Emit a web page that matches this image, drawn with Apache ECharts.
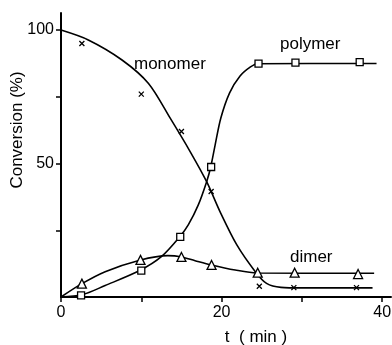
<!DOCTYPE html>
<html>
<head>
<meta charset="utf-8">
<script src="https://cdn.jsdelivr.net/npm/echarts@6/dist/echarts.min.js"></script>
<style>
html,body{margin:0;padding:0;background:#fff;}
#c{width:392px;height:345px;}
</style>
</head>
<body>
<div id="c"></div>
<script>
// measured points (t in min, conversion in %)
const monomerPts = [[2.6, 95], [10, 76], [15, 62], [18.7, 39.5], [24.7, 4], [29.0, 3.5], [36.8, 3.5]];
const polymerPts = [[2.5, 0.6], [10, 9.9], [14.85, 22.5], [18.7, 48.7], [24.6, 87.4], [29.2, 87.8], [37.2, 88]];
const dimerPts   = [[2.6, 5], [9.9, 13.9], [15, 15], [18.75, 12], [24.5, 9.1], [29.1, 9.1], [37, 8.6]];

// smooth fitted curves
const monomerCurve = [[0, 100], [3.4, 96.3], [7.6, 88.8], [10.9, 80], [13.6, 67], [16.1, 54.4], [18.14, 43.2], [19.8, 32], [21.9, 19.5], [24.2, 9.5], [25.6, 5.1], [27.4, 3.6], [30, 3.4], [38.8, 3.4]];
const polymerCurve = [[0, 0], [2.6, 0.8], [5.5, 4.3], [9.8, 9.9], [12.5, 15.1], [14.8, 22.6], [15.85, 27], [17.1, 34.5], [18.14, 43.2], [18.64, 48.6], [19.2, 57], [19.9, 67], [21, 76.5], [22.3, 82.8], [23.6, 86.2], [24.5, 87.4], [39.3, 87.5]];
const dimerCurve   = [[0, 0], [2.6, 5], [5.5, 9.5], [9.8, 13.8], [13.3, 15.5], [14.9, 15.1], [16.7, 13.6], [18.7, 12], [21.7, 10.1], [24.4, 9], [39, 8.9]];

const xTicks = [0, 10, 20, 30, 40];
const xLabels = [0, 20, 40];
const yTicks = [25, 50, 75, 100];
const yLabels = [50, 100];

const FONT = 'Liberation Sans';
const chart = echarts.init(document.getElementById('c'), null, {renderer: 'canvas'});

function curve(data) {
  return {type: 'line', data: data, smooth: 0.3, showSymbol: false,
    lineStyle: {color: '#000', width: 1.6}, z: 2, silent: true, animation: false};
}
function pts(data, symbol, size, filled) {
  return {type: 'scatter', data: data, symbol: symbol, symbolSize: size, z: 5, animation: false,
    itemStyle: {color: filled ? '#000' : '#fff', borderColor: '#000', borderWidth: 1.3, opacity: 1}};
}

chart.setOption({
  animation: false,
  backgroundColor: '#fff',
  grid: {left: 61, right: 1, top: 13, bottom: 48, containLabel: false, outerBoundsMode: 'none'},
  xAxis: {
    type: 'value', min: 0, max: 41.1,
    splitLine: {show: false},
    axisLine: {lineStyle: {color: '#000', width: 2}},
    axisTick: {customValues: xTicks, inside: false, length: 5, lineStyle: {color: '#000', width: 1.5}},
    axisLabel: {customValues: xLabels, color: '#000', fontFamily: FONT, fontSize: 16, margin: 8},
    name: 't  ( min )', nameLocation: 'middle', nameGap: 32,
    nameTextStyle: {color: '#000', fontFamily: FONT, fontSize: 17, padding: [0, 0, 0, 60]}
  },
  yAxis: {
    type: 'value', min: 0, max: 106.4,
    splitLine: {show: false},
    axisLine: {lineStyle: {color: '#000', width: 2}},
    axisTick: {customValues: yTicks, inside: false, length: 5, lineStyle: {color: '#000', width: 1.5}},
    axisLabel: {customValues: yLabels, color: '#000', fontFamily: FONT, fontSize: 16, margin: 7},
    name: 'Conversion (%)', nameLocation: 'middle', nameGap: 35, nameRotate: 90, nameMoveOverlap: false,
    nameTextStyle: {color: '#000', fontFamily: FONT, fontSize: 17, padding: [0, 0, 0, 50]}
  },
  graphic: [
    {type: 'text', left: 134, top: 56, style: {text: 'monomer', fill: '#000', font: '17px "Liberation Sans"'}},
    {type: 'text', left: 280, top: 36, style: {text: 'polymer', fill: '#000', font: '17px "Liberation Sans"'}},
    {type: 'text', left: 290, top: 249, style: {text: 'dimer', fill: '#000', font: '17px "Liberation Sans"'}}
  ],
  series: [
    curve(monomerCurve), curve(polymerCurve), curve(dimerCurve),
    pts(monomerPts, 'path://M0,0L10,10M10,0L0,10', 5, true),
    pts(polymerPts, 'rect', 7, false),
    pts(dimerPts, 'triangle', 9, false)
  ]
});
</script>
</body>
</html>
